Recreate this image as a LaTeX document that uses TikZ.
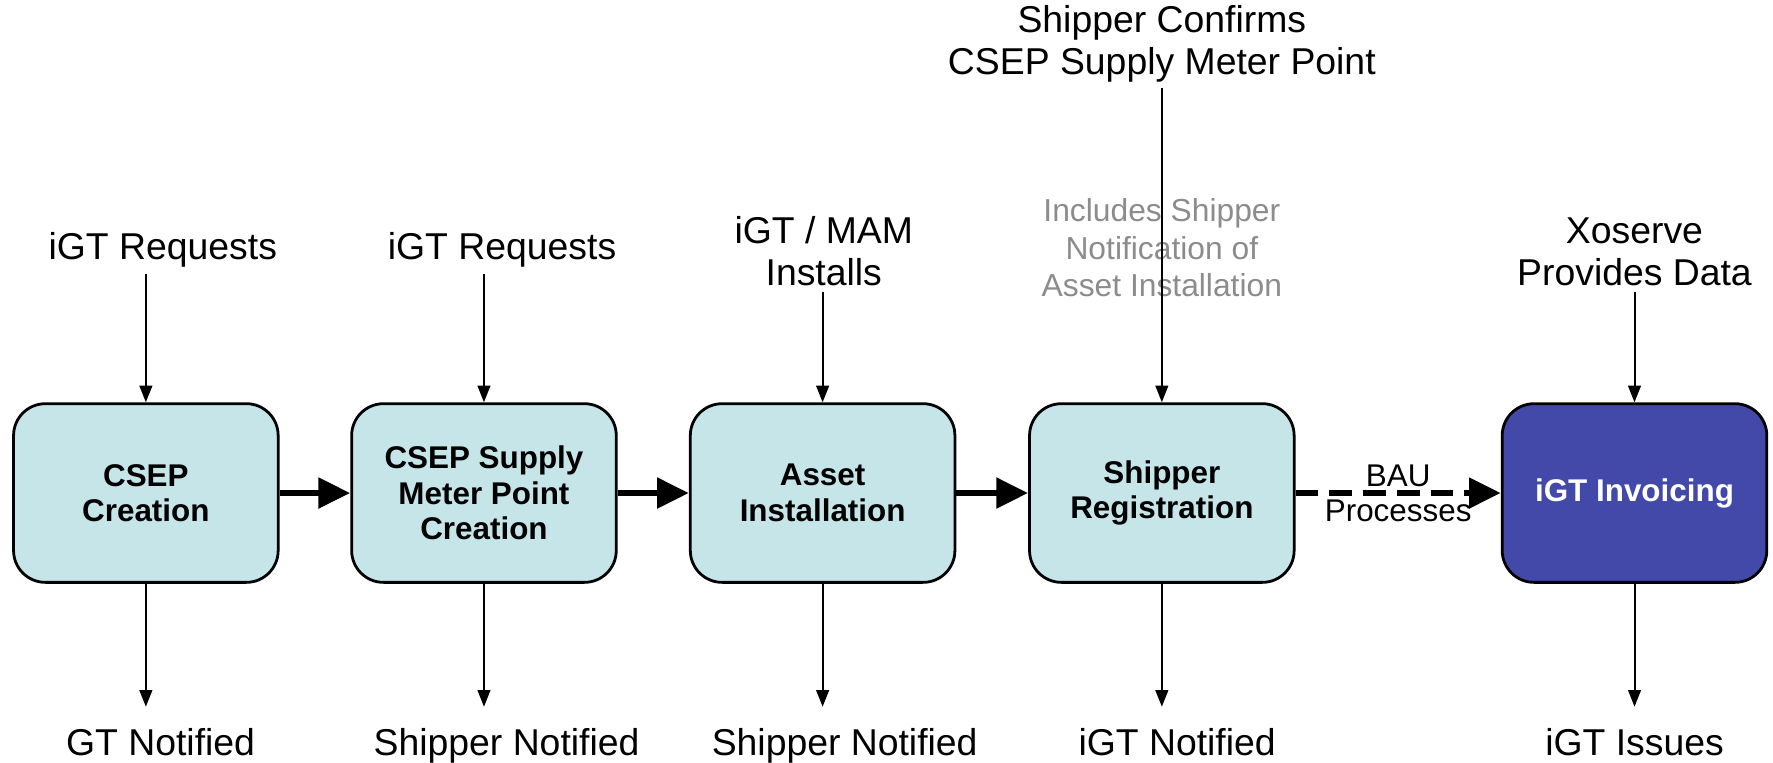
\documentclass[tikz,border=0pt]{standalone}
\usepackage{fontspec}
\setmainfont{Liberation Sans}
\usetikzlibrary{arrows.meta}
\definecolor{stepfill}{HTML}{C5E5E8}
\definecolor{invfill}{HTML}{4349A8}
\definecolor{notegrey}{HTML}{8C8C8C}
\tikzset{
  stage/.style={draw, line width=0.7pt, rounded corners=8pt, fill=stepfill,
    minimum width=2.34cm, minimum height=1.58cm, align=center,
    font=\bfseries\fontsize{7.9}{8.9}\selectfont},
  lbl/.style={inner sep=0pt, outer sep=1.5pt, align=center,
    font=\fontsize{9.4}{10.6}\selectfont},
  botlbl/.style={lbl, outer sep=5.4pt, anchor=north},
  flow/.style={line width=1.7pt, -{Triangle[length=8pt,width=7.4pt]}},
}
\begin{document}
\begin{tikzpicture}[>={Triangle[length=4.2pt,width=3.2pt]}, line width=0.5pt]
      \useasboundingbox (0, 0) rectangle (15.68, -6.74);

      % process stages
      \node[stage] (csep) at (1.29, -4.36) {CSEP\\Creation};
      \node[stage] (smp) at (4.28, -4.36) {CSEP Supply\\Meter Point\\Creation};
      \node[stage] (asset) at (7.275, -4.36) {Asset\\Installation};
      \node[stage] (shipreg) at (10.275, -4.36) {Shipper\\Registration};
      \node[stage, fill=invfill, text=white] (invoice) at (14.455, -4.36) {iGT Invoicing};

      % inputs
      \node[lbl, anchor=south] (req1) at (1.44, -2.42) {iGT Requests};
      \node[lbl, anchor=south] (req2) at (4.44, -2.42) {iGT Requests};
      \node[lbl, anchor=south] (mam) at (7.285, -2.58) {iGT / MAM\\Installs};
      \node[lbl, anchor=south] (confirm) at (10.275, -0.78) {Shipper Confirms\\CSEP Supply Meter Point};
      \node[lbl, anchor=south] (xoserve) at (14.455, -2.58) {Xoserve\\Provides Data};
      \node[lbl, text=notegrey, font=\fontsize{8}{9.4}\selectfont] (note) at (10.275, -2.19)
        {Includes Shipper\\Notification of\\Asset Installation};

      % outputs
      \node[botlbl] (gtn) at (1.42, -6.25) {GT Notified};
      \node[botlbl] (shn1) at (4.48, -6.25) {Shipper Notified};
      \node[botlbl] (shn2) at (7.47, -6.25) {Shipper Notified};
      \node[botlbl] (igtn) at (10.41, -6.25) {iGT Notified};
      \node[botlbl] (issues) at (14.455, -6.25) {iGT Issues};

      \draw[->] (req1.south -| csep) -- (csep);
      \draw[->] (req2.south -| smp) -- (smp);
      \draw[->] (mam.south -| asset) -- (asset);
      \draw[->] (confirm) -- (shipreg);
      \draw[->] (xoserve) -- (invoice);

      \draw[->] (csep) -- (gtn.north -| csep);
      \draw[->] (smp) -- (shn1.north -| smp);
      \draw[->] (asset) -- (shn2.north -| asset);
      \draw[->] (shipreg) -- (igtn.north -| shipreg);
      \draw[->] (invoice) -- (issues);

      \draw[flow] (csep) -- (smp);
      \draw[flow] (smp) -- (asset);
      \draw[flow] (asset) -- (shipreg);
      \draw[flow, dash pattern=on 5.7pt off 2.8pt] (shipreg) -- node[lbl, font=\fontsize{7.9}{8.8}\selectfont] {BAU\\Processes} (invoice);
    \end{tikzpicture}
\end{document}
